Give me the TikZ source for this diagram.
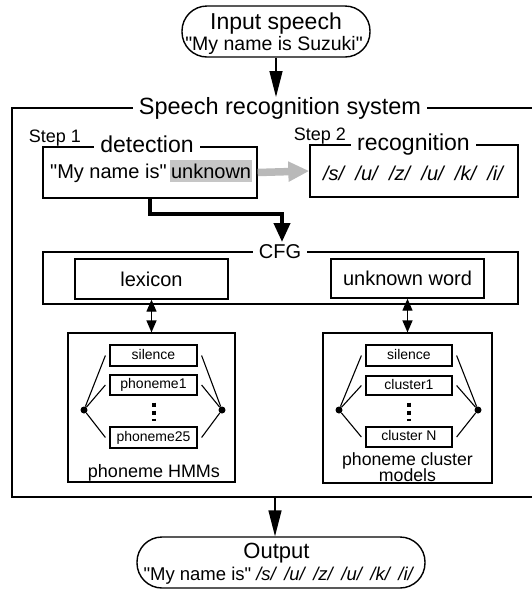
\documentclass[tikz,border=0pt]{standalone}
\usepackage{fontspec}
\setmainfont{Liberation Sans}[Ligatures=TeXOff]
\usetikzlibrary{arrows.meta}
\newcommand\fsz[1]{\fontsize{#1}{#1}\selectfont}
\newcommand\phgap{\hspace{11.3pt}}
\newcommand\outgap{\hspace{8.5pt}}
\begin{document}
\begin{tikzpicture}[x=1pt,y=-1pt,
  box/.style={draw, line width=1.4pt, inner sep=0pt},
  pill/.style={box, rounded corners=25pt},
  ttl/.style={fill=white, inner xsep=6pt, inner ysep=1pt, anchor=base},
  txt/.style={inner sep=0pt, anchor=base},
  unitbox/.style={box, line width=1.2pt, minimum width=87pt, font=\fsz{14},
    text height=10.2pt, text depth=2.9pt},
  knot/.style={circle, fill=black, inner sep=0pt, minimum size=7pt},
  arr/.style={line width=1.4pt, -{Triangle[length=26pt,width=13pt]}},
  darr/.style={line width=1.4pt, {Triangle[length=12pt,width=10pt]}-{Triangle[length=12pt,width=10pt]}},
  link/.style={line width=1.1pt}
]
\useasboundingbox (0,0) rectangle (532,590);

% input speech
\node[pill, minimum width=188pt, minimum height=51pt] (inp) at (276,31.5) {};
\node[txt, font=\fsz{23}] (inp1) at (276,29) {Input speech};
\node[txt, font=\fsz{19.5}] (inp2) at (274,50) {"My name is Suzuki"};

% recognition system frame
\node[box, minimum width=521pt, minimum height=389pt] (sys) at (272.5,302.5) {};
\node[ttl, font=\fsz{23.5}] (systtl) at (280,114) {Speech recognition system};

% step 1: detection
\node[box, minimum width=214pt, minimum height=51pt] (det) at (150,172.5) {};
\node[ttl, font=\fsz{23}] (dettl) at (147,152) {detection};
\node[txt, font=\fsz{18}] (st1) at (55,142) {Step 1};
\node[txt, anchor=base west, font=\fsz{20}] (said) at (50,178) {"My name is"};
\node[anchor=base west, fill=gray!45, inner xsep=1pt, inner ysep=4pt,
  text height=14.5pt, text depth=0pt, font=\fsz{20}, xshift=3pt] (unk) at (said.base east) {unknown};

% step 2: recognition
\node[box, minimum width=208pt, minimum height=52pt] (rec) at (414,171) {};
\node[ttl, font=\fsz{23}] (rectl) at (413.5,150) {recognition};
\node[txt, font=\fsz{18}] (st2) at (320,140) {Step 2};
\node[txt, font=\fsz{20}\itshape] (phs) at (413,180) {/s/\phgap/u/\phgap/z/\phgap/u/\phgap/k/\phgap/i/};

\draw[line width=7.5pt, gray!55, -{Triangle[length=21pt,width=19pt]}] (det.east) -- (rec.west);

% grammar
\node[box, minimum width=475pt, minimum height=52pt] (cfg) at (280.5,278) {};
\node[ttl, font=\fsz{20}] (cfgtl) at (280,258) {CFG};
\node[box, minimum width=153pt, minimum height=40pt, font=\fsz{20}] (lex) at (151.5,279) {lexicon};
\node[box, minimum width=153pt, minimum height=39pt, font=\fsz{20}] (unkw) at (407.5,278.5) {unknown word};

\coordinate (bend) at (282,214);
\coordinate (cfgin) at (282,242);
\draw[line width=4pt, -{Triangle[length=19pt,width=16pt]}] (det.south) |- (bend) -- (cfgin);

% acoustic models
\node[box, line width=1.2pt, minimum width=167pt, minimum height=149pt] (hmm) at (151.5,407.5) {};
\node[box, line width=1.2pt, minimum width=169pt, minimum height=150pt] (clu) at (407.5,408) {};
\draw[darr] (lex.south) -- (hmm.north);
\draw[darr] (unkw.south) -- (clu.north);

\node[unitbox, minimum height=21pt] (sil1) at (153.5,355.5) {silence};
\node[unitbox, minimum height=20pt] (ph1) at (153.5,385) {phoneme1};
\node[unitbox, minimum height=21pt] (ph25) at (153.5,437.5) {phoneme25};
\node[unitbox, minimum width=86pt, minimum height=21pt] (sil2) at (409,355.5) {silence};
\node[unitbox, minimum width=86pt, minimum height=19pt] (cl1) at (409,385.5) {cluster1};
\node[unitbox, minimum width=86pt, minimum height=20pt] (clN) at (409,437) {cluster N};

\node[knot] (l1) at (84,410) {};
\node[knot] (r1) at (222,410) {};
\node[knot] (l2) at (339,410) {};
\node[knot] (r2) at (478,410) {};
\foreach \b in {sil1,ph1,ph25} {
  \draw[link] (l1) -- ([xshift=-4pt]\b.west);
  \draw[link] (r1) -- ([xshift=4pt]\b.east);
}
\foreach \b in {sil2,cl1,clN} {
  \draw[link] (l2) -- ([xshift=-4pt]\b.west);
  \draw[link] (r2) -- ([xshift=4pt]\b.east);
}
\draw[line width=4pt, dash pattern=on 4pt off 4pt] ([yshift=-7pt]ph1.south) -- ([yshift=5pt]ph25.north);
\draw[line width=4pt, dash pattern=on 4pt off 4pt] ([yshift=-7pt]cl1.south) -- ([yshift=5pt]clN.north);

\node[txt, font=\fsz{18}] (hmmlab) at (154,477) {phoneme HMMs};
\node[txt, font=\fsz{17.7}] (clulab1) at (407.5,465) {phoneme cluster};
\node[txt, font=\fsz{17.7}] (clulab2) at (407.5,481) {models};

% output
\node[pill, minimum width=288pt, minimum height=51pt] (out) at (281,562.5) {};
\node[txt, font=\fsz{22}] (out1) at (276.5,558) {Output};
\node[txt, font=\fsz{18.5}] (out2) at (279,580) {"My name is"\hspace{5pt}\textit{/s/\outgap/u/\outgap/z/\outgap/u/\outgap/k/\outgap/i/}};

\coordinate (sysin) at (276,97);
\coordinate (sysout) at (275,497);
\draw[arr] (inp.south) -- (sysin);
\draw[arr] (sysout) -- (sysout |- out.north);
\end{tikzpicture}
\end{document}
